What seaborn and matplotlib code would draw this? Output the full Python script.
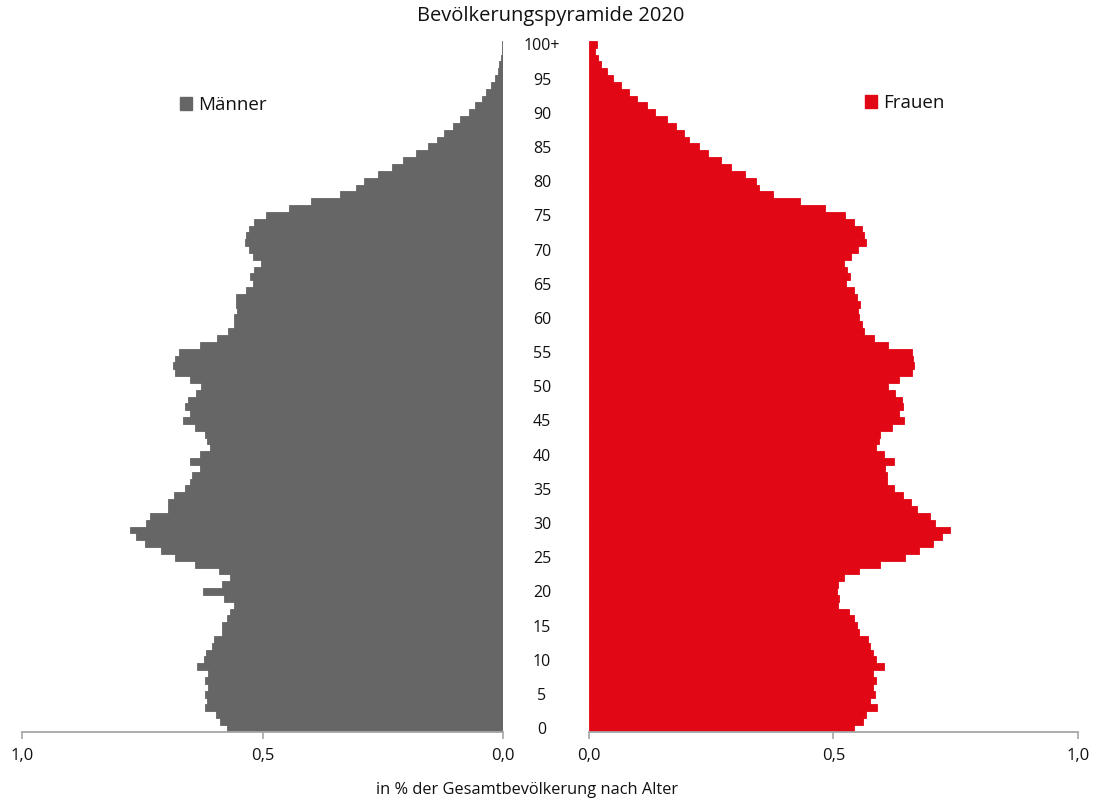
import pandas as pd
import seaborn as sns
import matplotlib.pyplot as plt
import matplotlib.transforms as mtransforms
from matplotlib.patches import Patch

# 1) DATEN ─────────────────────────────────────────────────────────────────────
# Anteil an der Gesamtbevölkerung in %, je Altersjahr 0 … 100+
alter = list(range(101))

maenner = [
    0.575, 0.589, 0.596, 0.619, 0.616, 0.619, 0.614, 0.619, 0.614, 0.637,   # 0-9
    0.621, 0.617, 0.606, 0.602, 0.584, 0.584, 0.575, 0.567, 0.560, 0.581,   # 10-19
    0.623, 0.585, 0.567, 0.591, 0.641, 0.683, 0.712, 0.745, 0.764, 0.775,   # 20-29
    0.743, 0.734, 0.696, 0.696, 0.685, 0.661, 0.650, 0.646, 0.631, 0.650,   # 30-39
    0.631, 0.609, 0.615, 0.620, 0.640, 0.665, 0.651, 0.661, 0.656, 0.638,   # 40-49
    0.629, 0.651, 0.683, 0.686, 0.683, 0.674, 0.631, 0.595, 0.571, 0.560,   # 50-59
    0.560, 0.553, 0.555, 0.555, 0.534, 0.521, 0.526, 0.517, 0.503, 0.520,   # 60-69
    0.529, 0.536, 0.534, 0.529, 0.517, 0.494, 0.445, 0.399, 0.339, 0.307,   # 70-79
    0.289, 0.261, 0.232, 0.208, 0.181, 0.156, 0.138, 0.124, 0.105, 0.090,   # 80-89
    0.071, 0.058, 0.044, 0.035, 0.026, 0.018, 0.012, 0.008, 0.005, 0.003,   # 90-99
    0.002,                                                                  # 100+
]

frauen = [
    0.543, 0.560, 0.567, 0.589, 0.575, 0.585, 0.581, 0.588, 0.582, 0.604,   # 0-9
    0.588, 0.581, 0.574, 0.571, 0.553, 0.548, 0.543, 0.531, 0.509, 0.512,   # 10-19
    0.507, 0.510, 0.521, 0.553, 0.595, 0.647, 0.675, 0.704, 0.722, 0.739,   # 20-29
    0.708, 0.697, 0.671, 0.659, 0.643, 0.623, 0.610, 0.609, 0.605, 0.623,   # 30-39
    0.604, 0.588, 0.593, 0.596, 0.620, 0.645, 0.634, 0.643, 0.641, 0.625,   # 40-49
    0.611, 0.635, 0.661, 0.664, 0.663, 0.660, 0.611, 0.583, 0.562, 0.558,   # 50-59
    0.553, 0.551, 0.555, 0.548, 0.543, 0.526, 0.534, 0.528, 0.521, 0.536,   # 60-69
    0.551, 0.566, 0.562, 0.559, 0.543, 0.524, 0.483, 0.432, 0.376, 0.349,   # 70-79
    0.341, 0.320, 0.291, 0.271, 0.244, 0.225, 0.206, 0.195, 0.178, 0.160,   # 80-89
    0.136, 0.119, 0.099, 0.082, 0.065, 0.050, 0.037, 0.025, 0.020, 0.013,   # 90-99
    0.016,                                                                  # 100+
]

alters_ticks = list(range(0, 101, 5))
alters_labels = [str(a) for a in range(0, 100, 5)] + ["100+"]

x_ticks = [0.0, 0.5, 1.0]
x_labels = ["0,0", "0,5", "1,0"]

df = pd.DataFrame({"alter": alter, "maenner": maenner, "frauen": frauen})

GRAU = "#666666"
ROT = "#E20714"
ACHSE = "#a6a6a6"

# 2) LAYOUT ────────────────────────────────────────────────────────────────────
sns.set_theme(style="white")
plt.rcParams["font.family"] = ["Open Sans", "DejaVu Sans"]

W, H = 1098, 802
fig = plt.figure(figsize=(W / 100, H / 100), dpi=100)

y0, y1 = 731.7, 40.9                     # Balkenunter-/oberkante in px
ax_m = fig.add_axes([22 / W, 1 - y0 / H, (503.3 - 22) / W, (y0 - y1) / H])
ax_f = fig.add_axes([588.7 / W, 1 - y0 / H, (1078 - 588.7) / W, (y0 - y1) / H])

# 3) BALKEN ────────────────────────────────────────────────────────────────────
for ax, col, farbe in [(ax_m, "maenner", GRAU), (ax_f, "frauen", ROT)]:
    sns.barplot(data=df, x=col, y="alter", orient="h", native_scale=True,
                width=1, color=farbe, saturation=1, edgecolor=farbe,
                linewidth=0.6, errorbar=None, ax=ax)
    ax.set_ylim(-0.5, 100.5)
    ax.set_yticks([])
    ax.set_xlabel(""); ax.set_ylabel("")
    for s in ["top", "left", "right"]:
        ax.spines[s].set_visible(False)
    ax.spines["bottom"].set_color(ACHSE)
    ax.spines["bottom"].set_linewidth(1.3)
    ax.set_xticks(x_ticks, x_labels)
    ax.tick_params(axis="x", bottom=True, direction="out", length=5,
                   width=1.2, color=ACHSE, labelsize=12, pad=7,
                   labelcolor="#111111")

ax_m.set_xlim(1.0, 0.0)
ax_f.set_xlim(0.0, 1.0)

# Altersbeschriftung in der Mitte
trans = mtransforms.blended_transform_factory(fig.transFigure, ax_m.transData)
for a, lab in zip(alters_ticks, alters_labels):
    fig.text(542 / W, a, lab, transform=trans, ha="center",
             va="center_baseline", fontsize=11.5, color="#111111")

# 4) TEXTE / LEGENDE ───────────────────────────────────────────────────────────
fig.text(551 / W, 1 - 16 / H, "Bevölkerungspyramide 2020", ha="center",
         va="center", fontsize=14.5, color="#111111")
fig.text(527 / W, 1 - 790 / H, "in % der Gesamtbevölkerung nach Alter",
         ha="center", va="center", fontsize=11.8, color="#111111")

for farbe, name, (lx, ly) in [(GRAU, "Männer", (180, 105)),
                              (ROT, "Frauen", (865, 103))]:
    fig.legend(handles=[Patch(color=farbe, label=name)], loc="center left",
               bbox_to_anchor=(lx / W, 1 - ly / H), frameon=False,
               handlelength=0.65, handleheight=0.65, handletextpad=0.3,
               borderpad=0, borderaxespad=0, fontsize=13.5,
               labelcolor="#111111")

fig.savefig("out.png", dpi=100)
